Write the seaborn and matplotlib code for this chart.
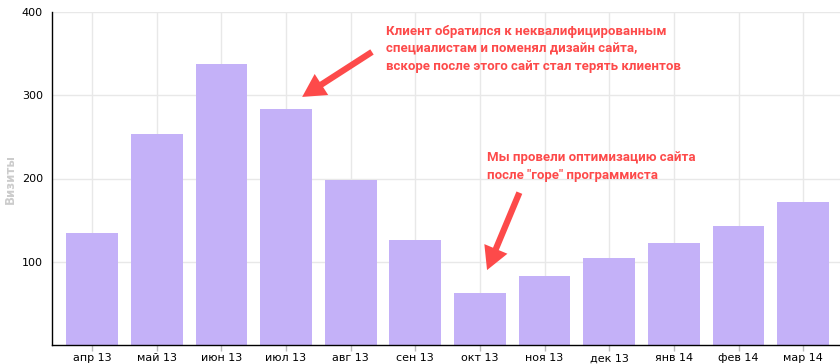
import pandas as pd
import seaborn as sns
import matplotlib.pyplot as plt

months = ["апр 13", "май 13", "июн 13", "июл 13", "авг 13", "сен 13",
          "окт 13", "ноя 13", "дек 13", "янв 14", "фев 14", "мар 14"]
visits = [134, 253, 337, 283, 198, 126, 63, 83, 104, 122, 143, 172]
yticks = [100, 200, 300, 400]

note1 = "Клиент обратился к неквалифицированным\nспециалистам и поменял дизайн сайта,\nвскоре после этого сайт стал терять клиентов"
note2 = "Мы провели оптимизацию сайта\nпосле \"горе\" программиста"

bar_color = "#c4b1f8"
red = "#fd4a4a"

sns.set_theme(style="whitegrid")
plt.rcParams["font.family"] = ["DejaVu Sans"]

df = pd.DataFrame({"month": months, "visits": visits})

fig = plt.figure(figsize=(8.4, 3.64), dpi=100)
ax = fig.add_axes([52 / 840, 19 / 364, 788 / 840, 333 / 364])

sns.barplot(data=df, x="month", y="visits", color=bar_color, saturation=1,
            width=0.8, linewidth=0, ax=ax)

ax.set_xlim(-0.62, 11.57)
ax.set_ylim(0, 400)
ax.set_yticks(yticks)
ax.set_xlabel("")
ax.set_ylabel("Визиты", color="#cccccc", fontsize=8.5, fontweight="bold")
ax.yaxis.set_label_coords(-0.044, 0.5)

ax.grid(True, color="#e8e8e8", linewidth=1)
ax.set_axisbelow(True)
for s in ["top", "right"]:
    ax.spines[s].set_visible(False)
for s in ["left", "bottom"]:
    ax.spines[s].set_color("black")
    ax.spines[s].set_linewidth(1)

ax.tick_params(axis="y", length=0, pad=6.5, labelsize=8, labelcolor="black")
ax.tick_params(axis="x", length=4, width=1, color="#bbbbbb", pad=2,
               labelsize=8, labelcolor="black", bottom=True)

arrow = dict(arrowstyle="simple,head_width=1.2,head_length=1.1,tail_width=0.3",
             color=red, linewidth=0, mutation_scale=15, shrinkA=0, shrinkB=0)
ax.annotate("", xy=(3.25, 298), xytext=(4.33, 352), arrowprops=arrow)
ax.annotate("", xy=(6.11, 90), xytext=(6.61, 183), arrowprops=arrow)

ax.text(4.54, 384, note1, color=red, fontsize=9.5, fontweight="bold",
        family=["Roboto", "DejaVu Sans"], va="top", ha="left", linespacing=1.45)
ax.text(6.11, 233, note2, color=red, fontsize=9.5, fontweight="bold",
        family=["Roboto", "DejaVu Sans"], va="top", ha="left", linespacing=1.45)

fig.savefig("out.png", dpi=100)
